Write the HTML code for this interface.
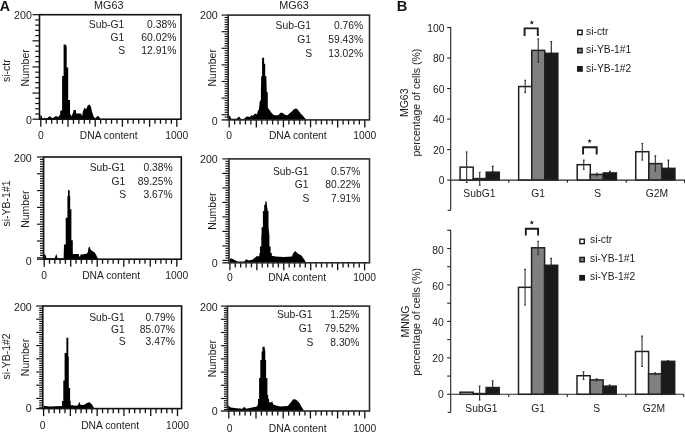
<!DOCTYPE html>
<html><head><meta charset="utf-8"><title>Figure</title>
<style>
html,body{margin:0;padding:0;background:#fff;width:685px;height:434px;overflow:hidden}
svg{display:block;filter:blur(0.3px);font-family:"Liberation Sans",sans-serif}
</style></head><body>
<svg width="685" height="434" viewBox="0 0 685 434">
<rect width="685" height="434" fill="#fff"/>
<text x="-0.3" y="10.5" font-size="14.2" font-weight="bold" fill="#111">A</text>
<text x="396.8" y="10.7" font-size="14.7" font-weight="bold" fill="#111">B</text>
<text x="108.8" y="8.8" font-size="10.8" text-anchor="middle" font-weight="normal" fill="#1c1c1c">MG63</text>
<text x="294" y="8.7" font-size="10.8" text-anchor="middle" font-weight="normal" fill="#1c1c1c">MG63</text>
<text x="0" y="0" transform="translate(9.6 70.6) rotate(-90)" font-size="10.5" text-anchor="middle" font-weight="normal" fill="#1c1c1c">si-ctr</text>
<text x="0" y="0" transform="translate(10.3 203.5) rotate(-90)" font-size="10.5" text-anchor="middle" font-weight="normal" fill="#1c1c1c">si-YB-1#1</text>
<text x="0" y="0" transform="translate(10.3 356.4) rotate(-90)" font-size="10.5" text-anchor="middle" font-weight="normal" fill="#1c1c1c">si-YB-1#2</text>
<path d="M40.3 119.2 L40.3 115.3 L41.5 115.5 L42.3 118.3 L47.2 118.3 L48.5 117 L49.9 116.2 L51 117 L52.6 118.3 L54.5 117 L55.8 116 L57 116.5 L58.5 117 L60.1 114.5 L60.4 110.4 L62.1 110.4 L62.1 75.9 L63.6 75.9 L63.6 44.6 L65.6 44.6 L66.7 46.4 L66.7 67.6 L68.2 67.6 L68.2 99.9 L70 99.9 L70 113.5 L71.5 116.2 L73.1 112.5 L73.6 110 L75.8 110 L76.2 113.6 L80.7 113.6 L82.3 115.8 L82.8 111.5 L84.5 107.7 L86.1 109.3 L87.7 105.5 L89.3 104.5 L90.9 106.5 L91.8 111 L93.6 116.5 L95.3 118.6 L96.5 117 L98 115.8 L99.2 117 L100.3 118.8 L100.3 119.2 Z" fill="#000"/>
<line x1="32.5" y1="119.2" x2="39.5" y2="119.2" stroke="#111" stroke-width="1.2"/>
<line x1="35.2" y1="113.98" x2="39.5" y2="113.98" stroke="#111" stroke-width="1.2"/>
<line x1="35.2" y1="108.75" x2="39.5" y2="108.75" stroke="#111" stroke-width="1.2"/>
<line x1="35.2" y1="103.53" x2="39.5" y2="103.53" stroke="#111" stroke-width="1.2"/>
<line x1="35.2" y1="98.3" x2="39.5" y2="98.3" stroke="#111" stroke-width="1.2"/>
<line x1="32.5" y1="93.08" x2="39.5" y2="93.08" stroke="#111" stroke-width="1.2"/>
<line x1="35.2" y1="87.85" x2="39.5" y2="87.85" stroke="#111" stroke-width="1.2"/>
<line x1="35.2" y1="82.62" x2="39.5" y2="82.62" stroke="#111" stroke-width="1.2"/>
<line x1="35.2" y1="77.4" x2="39.5" y2="77.4" stroke="#111" stroke-width="1.2"/>
<line x1="35.2" y1="72.18" x2="39.5" y2="72.18" stroke="#111" stroke-width="1.2"/>
<line x1="32.5" y1="66.95" x2="39.5" y2="66.95" stroke="#111" stroke-width="1.2"/>
<line x1="35.2" y1="61.73" x2="39.5" y2="61.73" stroke="#111" stroke-width="1.2"/>
<line x1="35.2" y1="56.5" x2="39.5" y2="56.5" stroke="#111" stroke-width="1.2"/>
<line x1="35.2" y1="51.28" x2="39.5" y2="51.28" stroke="#111" stroke-width="1.2"/>
<line x1="35.2" y1="46.05" x2="39.5" y2="46.05" stroke="#111" stroke-width="1.2"/>
<line x1="32.5" y1="40.83" x2="39.5" y2="40.83" stroke="#111" stroke-width="1.2"/>
<line x1="35.2" y1="35.6" x2="39.5" y2="35.6" stroke="#111" stroke-width="1.2"/>
<line x1="35.2" y1="30.38" x2="39.5" y2="30.38" stroke="#111" stroke-width="1.2"/>
<line x1="35.2" y1="25.15" x2="39.5" y2="25.15" stroke="#111" stroke-width="1.2"/>
<line x1="35.2" y1="19.92" x2="39.5" y2="19.92" stroke="#111" stroke-width="1.2"/>
<line x1="32.5" y1="14.7" x2="39.5" y2="14.7" stroke="#111" stroke-width="1.2"/>
<line x1="40.8" y1="119.2" x2="40.8" y2="126.7" stroke="#111" stroke-width="1.3"/>
<line x1="46.24" y1="119.2" x2="46.24" y2="123.8" stroke="#111" stroke-width="1.3"/>
<line x1="51.68" y1="119.2" x2="51.68" y2="123.8" stroke="#111" stroke-width="1.3"/>
<line x1="57.12" y1="119.2" x2="57.12" y2="123.8" stroke="#111" stroke-width="1.3"/>
<line x1="62.56" y1="119.2" x2="62.56" y2="123.8" stroke="#111" stroke-width="1.3"/>
<line x1="68" y1="119.2" x2="68" y2="126.7" stroke="#111" stroke-width="1.3"/>
<line x1="73.44" y1="119.2" x2="73.44" y2="123.8" stroke="#111" stroke-width="1.3"/>
<line x1="78.88" y1="119.2" x2="78.88" y2="123.8" stroke="#111" stroke-width="1.3"/>
<line x1="84.32" y1="119.2" x2="84.32" y2="123.8" stroke="#111" stroke-width="1.3"/>
<line x1="89.76" y1="119.2" x2="89.76" y2="123.8" stroke="#111" stroke-width="1.3"/>
<line x1="95.2" y1="119.2" x2="95.2" y2="126.7" stroke="#111" stroke-width="1.3"/>
<line x1="100.64" y1="119.2" x2="100.64" y2="123.8" stroke="#111" stroke-width="1.3"/>
<line x1="106.08" y1="119.2" x2="106.08" y2="123.8" stroke="#111" stroke-width="1.3"/>
<line x1="111.52" y1="119.2" x2="111.52" y2="123.8" stroke="#111" stroke-width="1.3"/>
<line x1="116.96" y1="119.2" x2="116.96" y2="123.8" stroke="#111" stroke-width="1.3"/>
<line x1="122.4" y1="119.2" x2="122.4" y2="126.7" stroke="#111" stroke-width="1.3"/>
<line x1="127.84" y1="119.2" x2="127.84" y2="123.8" stroke="#111" stroke-width="1.3"/>
<line x1="133.28" y1="119.2" x2="133.28" y2="123.8" stroke="#111" stroke-width="1.3"/>
<line x1="138.72" y1="119.2" x2="138.72" y2="123.8" stroke="#111" stroke-width="1.3"/>
<line x1="144.16" y1="119.2" x2="144.16" y2="123.8" stroke="#111" stroke-width="1.3"/>
<line x1="149.6" y1="119.2" x2="149.6" y2="126.7" stroke="#111" stroke-width="1.3"/>
<line x1="155.04" y1="119.2" x2="155.04" y2="123.8" stroke="#111" stroke-width="1.3"/>
<line x1="160.48" y1="119.2" x2="160.48" y2="123.8" stroke="#111" stroke-width="1.3"/>
<line x1="165.92" y1="119.2" x2="165.92" y2="123.8" stroke="#111" stroke-width="1.3"/>
<line x1="171.36" y1="119.2" x2="171.36" y2="123.8" stroke="#111" stroke-width="1.3"/>
<line x1="176.8" y1="119.2" x2="176.8" y2="126.7" stroke="#111" stroke-width="1.3"/>
<rect x="39.5" y="14.7" width="141.5" height="104.5" fill="none" stroke="#111" stroke-width="1.6"/>
<text x="31.8" y="19.15" font-size="10.6" text-anchor="end" font-weight="normal" fill="#1c1c1c">200</text>
<text x="31.8" y="123.55" font-size="10.6" text-anchor="end" font-weight="normal" fill="#1c1c1c">0</text>
<text x="40.8" y="138.5" font-size="10.3" text-anchor="middle" font-weight="normal" fill="#1c1c1c">0</text>
<text x="176.8" y="138.5" font-size="10.3" text-anchor="middle" font-weight="normal" fill="#1c1c1c">1000</text>
<text x="108.7" y="138.5" font-size="10.3" text-anchor="middle" font-weight="normal" fill="#1c1c1c">DNA content</text>
<text x="0" y="0" transform="translate(29.4 67.9) rotate(-90)" font-size="10.5" text-anchor="middle" font-weight="normal" fill="#1c1c1c">Number</text>
<text x="124.3" y="28.2" font-size="10.3" text-anchor="end" font-weight="normal" fill="#1c1c1c">Sub-G1</text>
<text x="176.3" y="28.2" font-size="10.3" text-anchor="end" font-weight="normal" fill="#1c1c1c">0.38%</text>
<text x="124.3" y="40.9" font-size="10.3" text-anchor="end" font-weight="normal" fill="#1c1c1c">G1</text>
<text x="176.3" y="40.9" font-size="10.3" text-anchor="end" font-weight="normal" fill="#1c1c1c">60.02%</text>
<text x="125.2" y="53.8" font-size="10.3" text-anchor="end" font-weight="normal" fill="#1c1c1c">S</text>
<text x="176.3" y="53.8" font-size="10.3" text-anchor="end" font-weight="normal" fill="#1c1c1c">12.91%</text>
<path d="M228.4 119.9 L228.4 116.5 L229.2 115.6 L230.2 116.2 L231.2 118.8 L236.5 118.8 L238 117.5 L239.1 116.5 L240 117.8 L241.5 119.3 L244.6 118.6 L246.1 116.8 L248.2 116.5 L249.7 117.3 L251.2 115.3 L252.8 115.8 L254.3 114.2 L255.8 113.5 L256.9 114.6 L257.9 110.7 L258.9 109.6 L259.9 100.4 L260.9 100.4 L260.9 92.7 L261.2 76.3 L262.1 76.3 L262.1 57.8 L264.1 57.8 L264.1 63.8 L265.2 63.8 L265.2 76.3 L266.3 76.3 L266.8 92.3 L267.8 92.3 L267.8 107.6 L269.1 109.6 L270.7 111.7 L272.7 114.2 L274.7 115.3 L278.3 115.3 L280.4 112.7 L282.4 112.7 L285 114.7 L287.5 115.3 L289.6 113.2 L291.6 111.7 L293.6 109.6 L295.7 108.6 L297.2 109.1 L299.3 111.7 L301.3 114.2 L303.4 116.3 L305.4 118.8 L306.9 120 L306.9 119.9 Z" fill="#000"/>
<line x1="221.6" y1="15.1" x2="228.2" y2="15.1" stroke="#111" stroke-width="1.15"/>
<line x1="224.6" y1="17.47" x2="228.2" y2="17.47" stroke="#111" stroke-width="1.15"/>
<line x1="224.6" y1="19.84" x2="228.2" y2="19.84" stroke="#111" stroke-width="1.15"/>
<line x1="224.6" y1="22.21" x2="228.2" y2="22.21" stroke="#111" stroke-width="1.15"/>
<line x1="224.6" y1="24.59" x2="228.2" y2="24.59" stroke="#111" stroke-width="1.15"/>
<line x1="224.6" y1="26.96" x2="228.2" y2="26.96" stroke="#111" stroke-width="1.15"/>
<line x1="224.6" y1="29.33" x2="228.2" y2="29.33" stroke="#111" stroke-width="1.15"/>
<line x1="221.6" y1="31.7" x2="228.2" y2="31.7" stroke="#111" stroke-width="1.15"/>
<line x1="224.6" y1="34.07" x2="228.2" y2="34.07" stroke="#111" stroke-width="1.15"/>
<line x1="224.6" y1="36.44" x2="228.2" y2="36.44" stroke="#111" stroke-width="1.15"/>
<line x1="224.6" y1="38.81" x2="228.2" y2="38.81" stroke="#111" stroke-width="1.15"/>
<line x1="224.6" y1="41.19" x2="228.2" y2="41.19" stroke="#111" stroke-width="1.15"/>
<line x1="224.6" y1="43.56" x2="228.2" y2="43.56" stroke="#111" stroke-width="1.15"/>
<line x1="224.6" y1="45.93" x2="228.2" y2="45.93" stroke="#111" stroke-width="1.15"/>
<line x1="221.6" y1="48.3" x2="228.2" y2="48.3" stroke="#111" stroke-width="1.15"/>
<line x1="224.6" y1="50.67" x2="228.2" y2="50.67" stroke="#111" stroke-width="1.15"/>
<line x1="224.6" y1="53.04" x2="228.2" y2="53.04" stroke="#111" stroke-width="1.15"/>
<line x1="224.6" y1="55.41" x2="228.2" y2="55.41" stroke="#111" stroke-width="1.15"/>
<line x1="224.6" y1="57.79" x2="228.2" y2="57.79" stroke="#111" stroke-width="1.15"/>
<line x1="224.6" y1="60.16" x2="228.2" y2="60.16" stroke="#111" stroke-width="1.15"/>
<line x1="224.6" y1="62.53" x2="228.2" y2="62.53" stroke="#111" stroke-width="1.15"/>
<line x1="221.6" y1="64.9" x2="228.2" y2="64.9" stroke="#111" stroke-width="1.15"/>
<line x1="224.6" y1="67.27" x2="228.2" y2="67.27" stroke="#111" stroke-width="1.15"/>
<line x1="224.6" y1="69.64" x2="228.2" y2="69.64" stroke="#111" stroke-width="1.15"/>
<line x1="224.6" y1="72.01" x2="228.2" y2="72.01" stroke="#111" stroke-width="1.15"/>
<line x1="224.6" y1="74.39" x2="228.2" y2="74.39" stroke="#111" stroke-width="1.15"/>
<line x1="224.6" y1="76.76" x2="228.2" y2="76.76" stroke="#111" stroke-width="1.15"/>
<line x1="224.6" y1="79.13" x2="228.2" y2="79.13" stroke="#111" stroke-width="1.15"/>
<line x1="221.6" y1="81.5" x2="228.2" y2="81.5" stroke="#111" stroke-width="1.15"/>
<line x1="224.6" y1="83.87" x2="228.2" y2="83.87" stroke="#111" stroke-width="1.15"/>
<line x1="224.6" y1="86.24" x2="228.2" y2="86.24" stroke="#111" stroke-width="1.15"/>
<line x1="224.6" y1="88.61" x2="228.2" y2="88.61" stroke="#111" stroke-width="1.15"/>
<line x1="224.6" y1="90.99" x2="228.2" y2="90.99" stroke="#111" stroke-width="1.15"/>
<line x1="224.6" y1="93.36" x2="228.2" y2="93.36" stroke="#111" stroke-width="1.15"/>
<line x1="224.6" y1="95.73" x2="228.2" y2="95.73" stroke="#111" stroke-width="1.15"/>
<line x1="221.6" y1="98.1" x2="228.2" y2="98.1" stroke="#111" stroke-width="1.15"/>
<line x1="224.6" y1="100.47" x2="228.2" y2="100.47" stroke="#111" stroke-width="1.15"/>
<line x1="224.6" y1="102.84" x2="228.2" y2="102.84" stroke="#111" stroke-width="1.15"/>
<line x1="224.6" y1="105.21" x2="228.2" y2="105.21" stroke="#111" stroke-width="1.15"/>
<line x1="224.6" y1="107.59" x2="228.2" y2="107.59" stroke="#111" stroke-width="1.15"/>
<line x1="224.6" y1="109.96" x2="228.2" y2="109.96" stroke="#111" stroke-width="1.15"/>
<line x1="224.6" y1="112.33" x2="228.2" y2="112.33" stroke="#111" stroke-width="1.15"/>
<line x1="221.6" y1="114.7" x2="228.2" y2="114.7" stroke="#111" stroke-width="1.15"/>
<line x1="224.6" y1="117.07" x2="228.2" y2="117.07" stroke="#111" stroke-width="1.15"/>
<line x1="221.6" y1="119.9" x2="228.2" y2="119.9" stroke="#111" stroke-width="1.3"/>
<line x1="229.2" y1="119.9" x2="229.2" y2="127.4" stroke="#111" stroke-width="1.3"/>
<line x1="234.62" y1="119.9" x2="234.62" y2="124.5" stroke="#111" stroke-width="1.3"/>
<line x1="240.05" y1="119.9" x2="240.05" y2="124.5" stroke="#111" stroke-width="1.3"/>
<line x1="245.47" y1="119.9" x2="245.47" y2="124.5" stroke="#111" stroke-width="1.3"/>
<line x1="250.9" y1="119.9" x2="250.9" y2="124.5" stroke="#111" stroke-width="1.3"/>
<line x1="256.32" y1="119.9" x2="256.32" y2="127.4" stroke="#111" stroke-width="1.3"/>
<line x1="261.74" y1="119.9" x2="261.74" y2="124.5" stroke="#111" stroke-width="1.3"/>
<line x1="267.17" y1="119.9" x2="267.17" y2="124.5" stroke="#111" stroke-width="1.3"/>
<line x1="272.59" y1="119.9" x2="272.59" y2="124.5" stroke="#111" stroke-width="1.3"/>
<line x1="278.02" y1="119.9" x2="278.02" y2="124.5" stroke="#111" stroke-width="1.3"/>
<line x1="283.44" y1="119.9" x2="283.44" y2="127.4" stroke="#111" stroke-width="1.3"/>
<line x1="288.86" y1="119.9" x2="288.86" y2="124.5" stroke="#111" stroke-width="1.3"/>
<line x1="294.29" y1="119.9" x2="294.29" y2="124.5" stroke="#111" stroke-width="1.3"/>
<line x1="299.71" y1="119.9" x2="299.71" y2="124.5" stroke="#111" stroke-width="1.3"/>
<line x1="305.14" y1="119.9" x2="305.14" y2="124.5" stroke="#111" stroke-width="1.3"/>
<line x1="310.56" y1="119.9" x2="310.56" y2="127.4" stroke="#111" stroke-width="1.3"/>
<line x1="315.98" y1="119.9" x2="315.98" y2="124.5" stroke="#111" stroke-width="1.3"/>
<line x1="321.41" y1="119.9" x2="321.41" y2="124.5" stroke="#111" stroke-width="1.3"/>
<line x1="326.83" y1="119.9" x2="326.83" y2="124.5" stroke="#111" stroke-width="1.3"/>
<line x1="332.26" y1="119.9" x2="332.26" y2="124.5" stroke="#111" stroke-width="1.3"/>
<line x1="337.68" y1="119.9" x2="337.68" y2="127.4" stroke="#111" stroke-width="1.3"/>
<line x1="343.1" y1="119.9" x2="343.1" y2="124.5" stroke="#111" stroke-width="1.3"/>
<line x1="348.53" y1="119.9" x2="348.53" y2="124.5" stroke="#111" stroke-width="1.3"/>
<line x1="353.95" y1="119.9" x2="353.95" y2="124.5" stroke="#111" stroke-width="1.3"/>
<line x1="359.38" y1="119.9" x2="359.38" y2="124.5" stroke="#111" stroke-width="1.3"/>
<line x1="364.8" y1="119.9" x2="364.8" y2="127.4" stroke="#111" stroke-width="1.3"/>
<rect x="228.2" y="15.1" width="141.3" height="104.8" fill="none" stroke="#2a2a2a" stroke-width="1.6"/>
<text x="217.7" y="19.45" font-size="10.6" text-anchor="end" font-weight="normal" fill="#1c1c1c">200</text>
<text x="217.7" y="124.75" font-size="10.6" text-anchor="end" font-weight="normal" fill="#1c1c1c">0</text>
<text x="229.2" y="138.6" font-size="10.3" text-anchor="middle" font-weight="normal" fill="#1c1c1c">0</text>
<text x="364.8" y="138.6" font-size="10.3" text-anchor="middle" font-weight="normal" fill="#1c1c1c">1000</text>
<text x="297.8" y="138.6" font-size="10.3" text-anchor="middle" font-weight="normal" fill="#1c1c1c">DNA content</text>
<text x="0" y="0" transform="translate(215.9 67.8) rotate(-90)" font-size="10.5" text-anchor="middle" font-weight="normal" fill="#1c1c1c">Number</text>
<text x="311.1" y="28.9" font-size="10.3" text-anchor="end" font-weight="normal" fill="#1c1c1c">Sub-G1</text>
<text x="363.2" y="28.9" font-size="10.3" text-anchor="end" font-weight="normal" fill="#1c1c1c">0.76%</text>
<text x="311.1" y="42.8" font-size="10.3" text-anchor="end" font-weight="normal" fill="#1c1c1c">G1</text>
<text x="363.2" y="42.8" font-size="10.3" text-anchor="end" font-weight="normal" fill="#1c1c1c">59.43%</text>
<text x="312" y="56.6" font-size="10.3" text-anchor="end" font-weight="normal" fill="#1c1c1c">S</text>
<text x="363.2" y="56.6" font-size="10.3" text-anchor="end" font-weight="normal" fill="#1c1c1c">13.02%</text>
<path d="M43.8 259.2 L43.8 254.1 L45.5 255 L46.5 258.2 L54.7 258.2 L55.5 256 L56.2 254.1 L57 256 L57.5 258.2 L63.6 258.2 L64 244.6 L65.7 244.6 L65.7 217.8 L67.4 217.8 L67.4 196.2 L68 196.2 L68 190.2 L69.7 190.2 L69.7 196.2 L70.2 196.2 L70.2 209.2 L71.4 209.2 L71.4 240.3 L72.8 240.3 L72.8 254.1 L78.7 254.1 L79.2 256.5 L80.2 256.5 L80.6 254.3 L82.4 254.5 L87 253.5 L87.8 252.3 L88.5 247.5 L89.8 246.8 L90.5 249.5 L91.6 250.4 L93.2 251.5 L94.4 252.3 L96.2 255 L97.5 257.8 L98.3 259 L98.3 259.2 Z" fill="#000"/>
<line x1="37" y1="157" x2="43.6" y2="157" stroke="#111" stroke-width="1.15"/>
<line x1="40" y1="159.4" x2="43.6" y2="159.4" stroke="#111" stroke-width="1.15"/>
<line x1="40" y1="161.8" x2="43.6" y2="161.8" stroke="#111" stroke-width="1.15"/>
<line x1="40" y1="164.2" x2="43.6" y2="164.2" stroke="#111" stroke-width="1.15"/>
<line x1="40" y1="166.6" x2="43.6" y2="166.6" stroke="#111" stroke-width="1.15"/>
<line x1="40" y1="169" x2="43.6" y2="169" stroke="#111" stroke-width="1.15"/>
<line x1="40" y1="171.4" x2="43.6" y2="171.4" stroke="#111" stroke-width="1.15"/>
<line x1="37" y1="173.8" x2="43.6" y2="173.8" stroke="#111" stroke-width="1.15"/>
<line x1="40" y1="176.2" x2="43.6" y2="176.2" stroke="#111" stroke-width="1.15"/>
<line x1="40" y1="178.6" x2="43.6" y2="178.6" stroke="#111" stroke-width="1.15"/>
<line x1="40" y1="181" x2="43.6" y2="181" stroke="#111" stroke-width="1.15"/>
<line x1="40" y1="183.4" x2="43.6" y2="183.4" stroke="#111" stroke-width="1.15"/>
<line x1="40" y1="185.8" x2="43.6" y2="185.8" stroke="#111" stroke-width="1.15"/>
<line x1="40" y1="188.2" x2="43.6" y2="188.2" stroke="#111" stroke-width="1.15"/>
<line x1="37" y1="190.6" x2="43.6" y2="190.6" stroke="#111" stroke-width="1.15"/>
<line x1="40" y1="193" x2="43.6" y2="193" stroke="#111" stroke-width="1.15"/>
<line x1="40" y1="195.4" x2="43.6" y2="195.4" stroke="#111" stroke-width="1.15"/>
<line x1="40" y1="197.8" x2="43.6" y2="197.8" stroke="#111" stroke-width="1.15"/>
<line x1="40" y1="200.2" x2="43.6" y2="200.2" stroke="#111" stroke-width="1.15"/>
<line x1="40" y1="202.6" x2="43.6" y2="202.6" stroke="#111" stroke-width="1.15"/>
<line x1="40" y1="205" x2="43.6" y2="205" stroke="#111" stroke-width="1.15"/>
<line x1="37" y1="207.4" x2="43.6" y2="207.4" stroke="#111" stroke-width="1.15"/>
<line x1="40" y1="209.8" x2="43.6" y2="209.8" stroke="#111" stroke-width="1.15"/>
<line x1="40" y1="212.2" x2="43.6" y2="212.2" stroke="#111" stroke-width="1.15"/>
<line x1="40" y1="214.6" x2="43.6" y2="214.6" stroke="#111" stroke-width="1.15"/>
<line x1="40" y1="217" x2="43.6" y2="217" stroke="#111" stroke-width="1.15"/>
<line x1="40" y1="219.4" x2="43.6" y2="219.4" stroke="#111" stroke-width="1.15"/>
<line x1="40" y1="221.8" x2="43.6" y2="221.8" stroke="#111" stroke-width="1.15"/>
<line x1="37" y1="224.2" x2="43.6" y2="224.2" stroke="#111" stroke-width="1.15"/>
<line x1="40" y1="226.6" x2="43.6" y2="226.6" stroke="#111" stroke-width="1.15"/>
<line x1="40" y1="229" x2="43.6" y2="229" stroke="#111" stroke-width="1.15"/>
<line x1="40" y1="231.4" x2="43.6" y2="231.4" stroke="#111" stroke-width="1.15"/>
<line x1="40" y1="233.8" x2="43.6" y2="233.8" stroke="#111" stroke-width="1.15"/>
<line x1="40" y1="236.2" x2="43.6" y2="236.2" stroke="#111" stroke-width="1.15"/>
<line x1="40" y1="238.6" x2="43.6" y2="238.6" stroke="#111" stroke-width="1.15"/>
<line x1="37" y1="241" x2="43.6" y2="241" stroke="#111" stroke-width="1.15"/>
<line x1="40" y1="243.4" x2="43.6" y2="243.4" stroke="#111" stroke-width="1.15"/>
<line x1="40" y1="245.8" x2="43.6" y2="245.8" stroke="#111" stroke-width="1.15"/>
<line x1="40" y1="248.2" x2="43.6" y2="248.2" stroke="#111" stroke-width="1.15"/>
<line x1="40" y1="250.6" x2="43.6" y2="250.6" stroke="#111" stroke-width="1.15"/>
<line x1="40" y1="253" x2="43.6" y2="253" stroke="#111" stroke-width="1.15"/>
<line x1="40" y1="255.4" x2="43.6" y2="255.4" stroke="#111" stroke-width="1.15"/>
<line x1="37" y1="257.8" x2="43.6" y2="257.8" stroke="#111" stroke-width="1.15"/>
<line x1="37" y1="259.2" x2="43.6" y2="259.2" stroke="#111" stroke-width="1.3"/>
<line x1="44.2" y1="259.2" x2="44.2" y2="266.7" stroke="#111" stroke-width="1.3"/>
<line x1="49.5" y1="259.2" x2="49.5" y2="263.8" stroke="#111" stroke-width="1.3"/>
<line x1="54.81" y1="259.2" x2="54.81" y2="263.8" stroke="#111" stroke-width="1.3"/>
<line x1="60.11" y1="259.2" x2="60.11" y2="263.8" stroke="#111" stroke-width="1.3"/>
<line x1="65.42" y1="259.2" x2="65.42" y2="263.8" stroke="#111" stroke-width="1.3"/>
<line x1="70.72" y1="259.2" x2="70.72" y2="266.7" stroke="#111" stroke-width="1.3"/>
<line x1="76.02" y1="259.2" x2="76.02" y2="263.8" stroke="#111" stroke-width="1.3"/>
<line x1="81.33" y1="259.2" x2="81.33" y2="263.8" stroke="#111" stroke-width="1.3"/>
<line x1="86.63" y1="259.2" x2="86.63" y2="263.8" stroke="#111" stroke-width="1.3"/>
<line x1="91.94" y1="259.2" x2="91.94" y2="263.8" stroke="#111" stroke-width="1.3"/>
<line x1="97.24" y1="259.2" x2="97.24" y2="266.7" stroke="#111" stroke-width="1.3"/>
<line x1="102.54" y1="259.2" x2="102.54" y2="263.8" stroke="#111" stroke-width="1.3"/>
<line x1="107.85" y1="259.2" x2="107.85" y2="263.8" stroke="#111" stroke-width="1.3"/>
<line x1="113.15" y1="259.2" x2="113.15" y2="263.8" stroke="#111" stroke-width="1.3"/>
<line x1="118.46" y1="259.2" x2="118.46" y2="263.8" stroke="#111" stroke-width="1.3"/>
<line x1="123.76" y1="259.2" x2="123.76" y2="266.7" stroke="#111" stroke-width="1.3"/>
<line x1="129.06" y1="259.2" x2="129.06" y2="263.8" stroke="#111" stroke-width="1.3"/>
<line x1="134.37" y1="259.2" x2="134.37" y2="263.8" stroke="#111" stroke-width="1.3"/>
<line x1="139.67" y1="259.2" x2="139.67" y2="263.8" stroke="#111" stroke-width="1.3"/>
<line x1="144.98" y1="259.2" x2="144.98" y2="263.8" stroke="#111" stroke-width="1.3"/>
<line x1="150.28" y1="259.2" x2="150.28" y2="266.7" stroke="#111" stroke-width="1.3"/>
<line x1="155.58" y1="259.2" x2="155.58" y2="263.8" stroke="#111" stroke-width="1.3"/>
<line x1="160.89" y1="259.2" x2="160.89" y2="263.8" stroke="#111" stroke-width="1.3"/>
<line x1="166.19" y1="259.2" x2="166.19" y2="263.8" stroke="#111" stroke-width="1.3"/>
<line x1="171.5" y1="259.2" x2="171.5" y2="263.8" stroke="#111" stroke-width="1.3"/>
<line x1="176.8" y1="259.2" x2="176.8" y2="266.7" stroke="#111" stroke-width="1.3"/>
<rect x="43.6" y="157" width="137.7" height="102.2" fill="none" stroke="#111" stroke-width="1.6"/>
<text x="31.7" y="161.85" font-size="10.6" text-anchor="end" font-weight="normal" fill="#1c1c1c">200</text>
<text x="31.7" y="265.35" font-size="10.6" text-anchor="end" font-weight="normal" fill="#1c1c1c">0</text>
<text x="44.2" y="278.9" font-size="10.3" text-anchor="middle" font-weight="normal" fill="#1c1c1c">0</text>
<text x="176.8" y="278.9" font-size="10.3" text-anchor="middle" font-weight="normal" fill="#1c1c1c">1000</text>
<text x="111.1" y="278.9" font-size="10.3" text-anchor="middle" font-weight="normal" fill="#1c1c1c">DNA content</text>
<text x="0" y="0" transform="translate(29.1 209.2) rotate(-90)" font-size="10.5" text-anchor="middle" font-weight="normal" fill="#1c1c1c">Number</text>
<text x="125.2" y="171.3" font-size="10.3" text-anchor="end" font-weight="normal" fill="#1c1c1c">Sub-G1</text>
<text x="172.7" y="171.3" font-size="10.3" text-anchor="end" font-weight="normal" fill="#1c1c1c">0.38%</text>
<text x="125.2" y="184.9" font-size="10.3" text-anchor="end" font-weight="normal" fill="#1c1c1c">G1</text>
<text x="172.7" y="184.9" font-size="10.3" text-anchor="end" font-weight="normal" fill="#1c1c1c">89.25%</text>
<text x="126.1" y="197.6" font-size="10.3" text-anchor="end" font-weight="normal" fill="#1c1c1c">S</text>
<text x="172.7" y="197.6" font-size="10.3" text-anchor="end" font-weight="normal" fill="#1c1c1c">3.67%</text>
<path d="M229.6 262.8 L229.6 258.6 L231.7 258.6 L234.6 260 L237.5 261.5 L244.2 261.5 L246.1 259.2 L248.9 260.5 L252.8 259.6 L256.5 256.3 L259.4 256.3 L259.4 253 L260 253 L260 246.6 L261.3 246.6 L261.3 235.3 L261.6 235.3 L261.6 227.3 L262.9 227.3 L262.9 211.1 L264.2 211.1 L264.2 204.7 L265.3 204.7 L265.3 201.5 L266.6 201.5 L266.9 204.7 L267.7 211.1 L268.5 211.1 L268.5 227.3 L269.4 235.3 L269.4 246.6 L270.6 246.6 L270.6 253 L271.8 253 L271.8 255.7 L275.7 256.5 L283.4 257 L292 256.5 L293.3 252.9 L295.2 251 L297.7 253.5 L301.5 255.5 L304.4 259.8 L305.9 262.5 L305.9 262.8 Z" fill="#000"/>
<line x1="222.4" y1="158.9" x2="229" y2="158.9" stroke="#111" stroke-width="1.15"/>
<line x1="225.4" y1="161.32" x2="229" y2="161.32" stroke="#111" stroke-width="1.15"/>
<line x1="225.4" y1="163.73" x2="229" y2="163.73" stroke="#111" stroke-width="1.15"/>
<line x1="225.4" y1="166.15" x2="229" y2="166.15" stroke="#111" stroke-width="1.15"/>
<line x1="225.4" y1="168.57" x2="229" y2="168.57" stroke="#111" stroke-width="1.15"/>
<line x1="225.4" y1="170.98" x2="229" y2="170.98" stroke="#111" stroke-width="1.15"/>
<line x1="222.4" y1="173.4" x2="229" y2="173.4" stroke="#111" stroke-width="1.15"/>
<line x1="225.4" y1="175.82" x2="229" y2="175.82" stroke="#111" stroke-width="1.15"/>
<line x1="225.4" y1="178.23" x2="229" y2="178.23" stroke="#111" stroke-width="1.15"/>
<line x1="225.4" y1="180.65" x2="229" y2="180.65" stroke="#111" stroke-width="1.15"/>
<line x1="225.4" y1="183.07" x2="229" y2="183.07" stroke="#111" stroke-width="1.15"/>
<line x1="225.4" y1="185.48" x2="229" y2="185.48" stroke="#111" stroke-width="1.15"/>
<line x1="222.4" y1="187.9" x2="229" y2="187.9" stroke="#111" stroke-width="1.15"/>
<line x1="225.4" y1="190.32" x2="229" y2="190.32" stroke="#111" stroke-width="1.15"/>
<line x1="225.4" y1="192.73" x2="229" y2="192.73" stroke="#111" stroke-width="1.15"/>
<line x1="225.4" y1="195.15" x2="229" y2="195.15" stroke="#111" stroke-width="1.15"/>
<line x1="225.4" y1="197.57" x2="229" y2="197.57" stroke="#111" stroke-width="1.15"/>
<line x1="225.4" y1="199.98" x2="229" y2="199.98" stroke="#111" stroke-width="1.15"/>
<line x1="222.4" y1="202.4" x2="229" y2="202.4" stroke="#111" stroke-width="1.15"/>
<line x1="225.4" y1="204.82" x2="229" y2="204.82" stroke="#111" stroke-width="1.15"/>
<line x1="225.4" y1="207.23" x2="229" y2="207.23" stroke="#111" stroke-width="1.15"/>
<line x1="225.4" y1="209.65" x2="229" y2="209.65" stroke="#111" stroke-width="1.15"/>
<line x1="225.4" y1="212.07" x2="229" y2="212.07" stroke="#111" stroke-width="1.15"/>
<line x1="225.4" y1="214.48" x2="229" y2="214.48" stroke="#111" stroke-width="1.15"/>
<line x1="222.4" y1="216.9" x2="229" y2="216.9" stroke="#111" stroke-width="1.15"/>
<line x1="225.4" y1="219.32" x2="229" y2="219.32" stroke="#111" stroke-width="1.15"/>
<line x1="225.4" y1="221.73" x2="229" y2="221.73" stroke="#111" stroke-width="1.15"/>
<line x1="225.4" y1="224.15" x2="229" y2="224.15" stroke="#111" stroke-width="1.15"/>
<line x1="225.4" y1="226.57" x2="229" y2="226.57" stroke="#111" stroke-width="1.15"/>
<line x1="225.4" y1="228.98" x2="229" y2="228.98" stroke="#111" stroke-width="1.15"/>
<line x1="222.4" y1="231.4" x2="229" y2="231.4" stroke="#111" stroke-width="1.15"/>
<line x1="225.4" y1="233.82" x2="229" y2="233.82" stroke="#111" stroke-width="1.15"/>
<line x1="225.4" y1="236.23" x2="229" y2="236.23" stroke="#111" stroke-width="1.15"/>
<line x1="225.4" y1="238.65" x2="229" y2="238.65" stroke="#111" stroke-width="1.15"/>
<line x1="225.4" y1="241.07" x2="229" y2="241.07" stroke="#111" stroke-width="1.15"/>
<line x1="225.4" y1="243.48" x2="229" y2="243.48" stroke="#111" stroke-width="1.15"/>
<line x1="222.4" y1="245.9" x2="229" y2="245.9" stroke="#111" stroke-width="1.15"/>
<line x1="225.4" y1="248.32" x2="229" y2="248.32" stroke="#111" stroke-width="1.15"/>
<line x1="225.4" y1="250.73" x2="229" y2="250.73" stroke="#111" stroke-width="1.15"/>
<line x1="225.4" y1="253.15" x2="229" y2="253.15" stroke="#111" stroke-width="1.15"/>
<line x1="225.4" y1="255.57" x2="229" y2="255.57" stroke="#111" stroke-width="1.15"/>
<line x1="225.4" y1="257.98" x2="229" y2="257.98" stroke="#111" stroke-width="1.15"/>
<line x1="222.4" y1="260.4" x2="229" y2="260.4" stroke="#111" stroke-width="1.15"/>
<line x1="222.4" y1="262.8" x2="229" y2="262.8" stroke="#111" stroke-width="1.3"/>
<line x1="229.9" y1="262.8" x2="229.9" y2="270.3" stroke="#111" stroke-width="1.3"/>
<line x1="235.29" y1="262.8" x2="235.29" y2="267.4" stroke="#111" stroke-width="1.3"/>
<line x1="240.68" y1="262.8" x2="240.68" y2="267.4" stroke="#111" stroke-width="1.3"/>
<line x1="246.06" y1="262.8" x2="246.06" y2="267.4" stroke="#111" stroke-width="1.3"/>
<line x1="251.45" y1="262.8" x2="251.45" y2="267.4" stroke="#111" stroke-width="1.3"/>
<line x1="256.84" y1="262.8" x2="256.84" y2="270.3" stroke="#111" stroke-width="1.3"/>
<line x1="262.23" y1="262.8" x2="262.23" y2="267.4" stroke="#111" stroke-width="1.3"/>
<line x1="267.62" y1="262.8" x2="267.62" y2="267.4" stroke="#111" stroke-width="1.3"/>
<line x1="273" y1="262.8" x2="273" y2="267.4" stroke="#111" stroke-width="1.3"/>
<line x1="278.39" y1="262.8" x2="278.39" y2="267.4" stroke="#111" stroke-width="1.3"/>
<line x1="283.78" y1="262.8" x2="283.78" y2="270.3" stroke="#111" stroke-width="1.3"/>
<line x1="289.17" y1="262.8" x2="289.17" y2="267.4" stroke="#111" stroke-width="1.3"/>
<line x1="294.56" y1="262.8" x2="294.56" y2="267.4" stroke="#111" stroke-width="1.3"/>
<line x1="299.94" y1="262.8" x2="299.94" y2="267.4" stroke="#111" stroke-width="1.3"/>
<line x1="305.33" y1="262.8" x2="305.33" y2="267.4" stroke="#111" stroke-width="1.3"/>
<line x1="310.72" y1="262.8" x2="310.72" y2="270.3" stroke="#111" stroke-width="1.3"/>
<line x1="316.11" y1="262.8" x2="316.11" y2="267.4" stroke="#111" stroke-width="1.3"/>
<line x1="321.5" y1="262.8" x2="321.5" y2="267.4" stroke="#111" stroke-width="1.3"/>
<line x1="326.88" y1="262.8" x2="326.88" y2="267.4" stroke="#111" stroke-width="1.3"/>
<line x1="332.27" y1="262.8" x2="332.27" y2="267.4" stroke="#111" stroke-width="1.3"/>
<line x1="337.66" y1="262.8" x2="337.66" y2="270.3" stroke="#111" stroke-width="1.3"/>
<line x1="343.05" y1="262.8" x2="343.05" y2="267.4" stroke="#111" stroke-width="1.3"/>
<line x1="348.44" y1="262.8" x2="348.44" y2="267.4" stroke="#111" stroke-width="1.3"/>
<line x1="353.82" y1="262.8" x2="353.82" y2="267.4" stroke="#111" stroke-width="1.3"/>
<line x1="359.21" y1="262.8" x2="359.21" y2="267.4" stroke="#111" stroke-width="1.3"/>
<line x1="364.6" y1="262.8" x2="364.6" y2="270.3" stroke="#111" stroke-width="1.3"/>
<rect x="229" y="158.9" width="140.5" height="103.9" fill="none" stroke="#2a2a2a" stroke-width="1.6"/>
<text x="217.7" y="163.45" font-size="10.6" text-anchor="end" font-weight="normal" fill="#1c1c1c">200</text>
<text x="217.7" y="267.35" font-size="10.6" text-anchor="end" font-weight="normal" fill="#1c1c1c">0</text>
<text x="229.9" y="280.9" font-size="10.3" text-anchor="middle" font-weight="normal" fill="#1c1c1c">0</text>
<text x="364.6" y="280.9" font-size="10.3" text-anchor="middle" font-weight="normal" fill="#1c1c1c">1000</text>
<text x="297.1" y="280.9" font-size="10.3" text-anchor="middle" font-weight="normal" fill="#1c1c1c">DNA content</text>
<text x="0" y="0" transform="translate(215.9 211.2) rotate(-90)" font-size="10.5" text-anchor="middle" font-weight="normal" fill="#1c1c1c">Number</text>
<text x="308.4" y="174.7" font-size="10.3" text-anchor="end" font-weight="normal" fill="#1c1c1c">Sub-G1</text>
<text x="360.3" y="174.7" font-size="10.3" text-anchor="end" font-weight="normal" fill="#1c1c1c">0.57%</text>
<text x="308.4" y="188.4" font-size="10.3" text-anchor="end" font-weight="normal" fill="#1c1c1c">G1</text>
<text x="360.3" y="188.4" font-size="10.3" text-anchor="end" font-weight="normal" fill="#1c1c1c">80.22%</text>
<text x="309.3" y="202.4" font-size="10.3" text-anchor="end" font-weight="normal" fill="#1c1c1c">S</text>
<text x="360.3" y="202.4" font-size="10.3" text-anchor="end" font-weight="normal" fill="#1c1c1c">7.91%</text>
<path d="M43.6 408.6 L43.6 405.8 L49.5 406.5 L62 406 L62 400.9 L63.3 400.9 L63.3 380.6 L64.6 380.6 L64.6 353 L66.4 353 L66.4 337.7 L68.3 337.7 L68.3 356.7 L68.8 356.7 L68.8 388 L70.1 388 L70.1 400.9 L70.7 400.9 L70.7 405.5 L72.5 405 L74 405.8 L77.8 405.5 L79.3 401.8 L80.6 405 L84.4 404.8 L87.3 402.8 L89.5 402.2 L92 404.5 L93.9 407.8 L93.9 408.6 Z" fill="#000"/>
<line x1="36.2" y1="306" x2="42.8" y2="306" stroke="#111" stroke-width="1.15"/>
<line x1="39.2" y1="308.2" x2="42.8" y2="308.2" stroke="#111" stroke-width="1.15"/>
<line x1="39.2" y1="310.4" x2="42.8" y2="310.4" stroke="#111" stroke-width="1.15"/>
<line x1="39.2" y1="312.6" x2="42.8" y2="312.6" stroke="#111" stroke-width="1.15"/>
<line x1="39.2" y1="314.8" x2="42.8" y2="314.8" stroke="#111" stroke-width="1.15"/>
<line x1="39.2" y1="317" x2="42.8" y2="317" stroke="#111" stroke-width="1.15"/>
<line x1="36.2" y1="319.2" x2="42.8" y2="319.2" stroke="#111" stroke-width="1.15"/>
<line x1="39.2" y1="321.4" x2="42.8" y2="321.4" stroke="#111" stroke-width="1.15"/>
<line x1="39.2" y1="323.6" x2="42.8" y2="323.6" stroke="#111" stroke-width="1.15"/>
<line x1="39.2" y1="325.8" x2="42.8" y2="325.8" stroke="#111" stroke-width="1.15"/>
<line x1="39.2" y1="328" x2="42.8" y2="328" stroke="#111" stroke-width="1.15"/>
<line x1="39.2" y1="330.2" x2="42.8" y2="330.2" stroke="#111" stroke-width="1.15"/>
<line x1="36.2" y1="332.4" x2="42.8" y2="332.4" stroke="#111" stroke-width="1.15"/>
<line x1="39.2" y1="334.6" x2="42.8" y2="334.6" stroke="#111" stroke-width="1.15"/>
<line x1="39.2" y1="336.8" x2="42.8" y2="336.8" stroke="#111" stroke-width="1.15"/>
<line x1="39.2" y1="339" x2="42.8" y2="339" stroke="#111" stroke-width="1.15"/>
<line x1="39.2" y1="341.2" x2="42.8" y2="341.2" stroke="#111" stroke-width="1.15"/>
<line x1="39.2" y1="343.4" x2="42.8" y2="343.4" stroke="#111" stroke-width="1.15"/>
<line x1="36.2" y1="345.6" x2="42.8" y2="345.6" stroke="#111" stroke-width="1.15"/>
<line x1="39.2" y1="347.8" x2="42.8" y2="347.8" stroke="#111" stroke-width="1.15"/>
<line x1="39.2" y1="350" x2="42.8" y2="350" stroke="#111" stroke-width="1.15"/>
<line x1="39.2" y1="352.2" x2="42.8" y2="352.2" stroke="#111" stroke-width="1.15"/>
<line x1="39.2" y1="354.4" x2="42.8" y2="354.4" stroke="#111" stroke-width="1.15"/>
<line x1="39.2" y1="356.6" x2="42.8" y2="356.6" stroke="#111" stroke-width="1.15"/>
<line x1="36.2" y1="358.8" x2="42.8" y2="358.8" stroke="#111" stroke-width="1.15"/>
<line x1="39.2" y1="361" x2="42.8" y2="361" stroke="#111" stroke-width="1.15"/>
<line x1="39.2" y1="363.2" x2="42.8" y2="363.2" stroke="#111" stroke-width="1.15"/>
<line x1="39.2" y1="365.4" x2="42.8" y2="365.4" stroke="#111" stroke-width="1.15"/>
<line x1="39.2" y1="367.6" x2="42.8" y2="367.6" stroke="#111" stroke-width="1.15"/>
<line x1="39.2" y1="369.8" x2="42.8" y2="369.8" stroke="#111" stroke-width="1.15"/>
<line x1="36.2" y1="372" x2="42.8" y2="372" stroke="#111" stroke-width="1.15"/>
<line x1="39.2" y1="374.2" x2="42.8" y2="374.2" stroke="#111" stroke-width="1.15"/>
<line x1="39.2" y1="376.4" x2="42.8" y2="376.4" stroke="#111" stroke-width="1.15"/>
<line x1="39.2" y1="378.6" x2="42.8" y2="378.6" stroke="#111" stroke-width="1.15"/>
<line x1="39.2" y1="380.8" x2="42.8" y2="380.8" stroke="#111" stroke-width="1.15"/>
<line x1="39.2" y1="383" x2="42.8" y2="383" stroke="#111" stroke-width="1.15"/>
<line x1="36.2" y1="385.2" x2="42.8" y2="385.2" stroke="#111" stroke-width="1.15"/>
<line x1="39.2" y1="387.4" x2="42.8" y2="387.4" stroke="#111" stroke-width="1.15"/>
<line x1="39.2" y1="389.6" x2="42.8" y2="389.6" stroke="#111" stroke-width="1.15"/>
<line x1="39.2" y1="391.8" x2="42.8" y2="391.8" stroke="#111" stroke-width="1.15"/>
<line x1="39.2" y1="394" x2="42.8" y2="394" stroke="#111" stroke-width="1.15"/>
<line x1="39.2" y1="396.2" x2="42.8" y2="396.2" stroke="#111" stroke-width="1.15"/>
<line x1="36.2" y1="398.4" x2="42.8" y2="398.4" stroke="#111" stroke-width="1.15"/>
<line x1="39.2" y1="400.6" x2="42.8" y2="400.6" stroke="#111" stroke-width="1.15"/>
<line x1="39.2" y1="402.8" x2="42.8" y2="402.8" stroke="#111" stroke-width="1.15"/>
<line x1="39.2" y1="405" x2="42.8" y2="405" stroke="#111" stroke-width="1.15"/>
<line x1="39.2" y1="407.2" x2="42.8" y2="407.2" stroke="#111" stroke-width="1.15"/>
<line x1="36.2" y1="408.6" x2="42.8" y2="408.6" stroke="#111" stroke-width="1.3"/>
<line x1="43.6" y1="408.6" x2="43.6" y2="416.1" stroke="#111" stroke-width="1.3"/>
<line x1="48.96" y1="408.6" x2="48.96" y2="413.2" stroke="#111" stroke-width="1.3"/>
<line x1="54.31" y1="408.6" x2="54.31" y2="413.2" stroke="#111" stroke-width="1.3"/>
<line x1="59.67" y1="408.6" x2="59.67" y2="413.2" stroke="#111" stroke-width="1.3"/>
<line x1="65.02" y1="408.6" x2="65.02" y2="413.2" stroke="#111" stroke-width="1.3"/>
<line x1="70.38" y1="408.6" x2="70.38" y2="416.1" stroke="#111" stroke-width="1.3"/>
<line x1="75.74" y1="408.6" x2="75.74" y2="413.2" stroke="#111" stroke-width="1.3"/>
<line x1="81.09" y1="408.6" x2="81.09" y2="413.2" stroke="#111" stroke-width="1.3"/>
<line x1="86.45" y1="408.6" x2="86.45" y2="413.2" stroke="#111" stroke-width="1.3"/>
<line x1="91.8" y1="408.6" x2="91.8" y2="413.2" stroke="#111" stroke-width="1.3"/>
<line x1="97.16" y1="408.6" x2="97.16" y2="416.1" stroke="#111" stroke-width="1.3"/>
<line x1="102.52" y1="408.6" x2="102.52" y2="413.2" stroke="#111" stroke-width="1.3"/>
<line x1="107.87" y1="408.6" x2="107.87" y2="413.2" stroke="#111" stroke-width="1.3"/>
<line x1="113.23" y1="408.6" x2="113.23" y2="413.2" stroke="#111" stroke-width="1.3"/>
<line x1="118.58" y1="408.6" x2="118.58" y2="413.2" stroke="#111" stroke-width="1.3"/>
<line x1="123.94" y1="408.6" x2="123.94" y2="416.1" stroke="#111" stroke-width="1.3"/>
<line x1="129.3" y1="408.6" x2="129.3" y2="413.2" stroke="#111" stroke-width="1.3"/>
<line x1="134.65" y1="408.6" x2="134.65" y2="413.2" stroke="#111" stroke-width="1.3"/>
<line x1="140.01" y1="408.6" x2="140.01" y2="413.2" stroke="#111" stroke-width="1.3"/>
<line x1="145.36" y1="408.6" x2="145.36" y2="413.2" stroke="#111" stroke-width="1.3"/>
<line x1="150.72" y1="408.6" x2="150.72" y2="416.1" stroke="#111" stroke-width="1.3"/>
<line x1="156.08" y1="408.6" x2="156.08" y2="413.2" stroke="#111" stroke-width="1.3"/>
<line x1="161.43" y1="408.6" x2="161.43" y2="413.2" stroke="#111" stroke-width="1.3"/>
<line x1="166.79" y1="408.6" x2="166.79" y2="413.2" stroke="#111" stroke-width="1.3"/>
<line x1="172.14" y1="408.6" x2="172.14" y2="413.2" stroke="#111" stroke-width="1.3"/>
<line x1="177.5" y1="408.6" x2="177.5" y2="416.1" stroke="#111" stroke-width="1.3"/>
<rect x="42.8" y="306" width="138.8" height="102.6" fill="none" stroke="#111" stroke-width="1.6"/>
<text x="31.7" y="310.75" font-size="10.6" text-anchor="end" font-weight="normal" fill="#1c1c1c">200</text>
<text x="31.7" y="411.95" font-size="10.6" text-anchor="end" font-weight="normal" fill="#1c1c1c">0</text>
<text x="42.6" y="428.7" font-size="10.3" text-anchor="middle" font-weight="normal" fill="#1c1c1c">0</text>
<text x="177.5" y="428.7" font-size="10.3" text-anchor="middle" font-weight="normal" fill="#1c1c1c">1000</text>
<text x="110.1" y="428.7" font-size="10.3" text-anchor="middle" font-weight="normal" fill="#1c1c1c">DNA content</text>
<text x="0" y="0" transform="translate(28.6 357.5) rotate(-90)" font-size="10.5" text-anchor="middle" font-weight="normal" fill="#1c1c1c">Number</text>
<text x="124.7" y="320.8" font-size="10.3" text-anchor="end" font-weight="normal" fill="#1c1c1c">Sub-G1</text>
<text x="174.8" y="320.8" font-size="10.3" text-anchor="end" font-weight="normal" fill="#1c1c1c">0.79%</text>
<text x="124.7" y="332.7" font-size="10.3" text-anchor="end" font-weight="normal" fill="#1c1c1c">G1</text>
<text x="174.8" y="332.7" font-size="10.3" text-anchor="end" font-weight="normal" fill="#1c1c1c">85.07%</text>
<text x="125.6" y="344.9" font-size="10.3" text-anchor="end" font-weight="normal" fill="#1c1c1c">S</text>
<text x="174.8" y="344.9" font-size="10.3" text-anchor="end" font-weight="normal" fill="#1c1c1c">3.47%</text>
<path d="M228.2 411 L228.2 405.4 L230.8 407.4 L236.6 408.2 L242.4 408.8 L244.3 406.8 L246.2 408.8 L252 407.4 L256.9 406.4 L258 404 L258 398.9 L259.1 398.9 L259.1 378.1 L260.3 378.1 L260.3 359.9 L261.6 359.9 L261.6 351.6 L262.4 351.6 L262.4 347 L264.4 346.5 L265.3 351.6 L265.3 359.9 L266.1 359.9 L266.1 378.1 L267.4 378.1 L267.4 394.7 L268.2 394.7 L268.2 398.9 L269.1 398.9 L269.1 402.2 L271.6 402.2 L272.1 400.8 L272.7 403 L273.3 404.5 L276.2 405.4 L280.1 406.4 L287.8 406 L290.7 402.5 L293.2 399.2 L296 399.6 L299.4 403.1 L301.4 406.4 L303.7 410.2 L303.7 411 Z" fill="#000"/>
<line x1="220.9" y1="306.1" x2="227.5" y2="306.1" stroke="#111" stroke-width="1.15"/>
<line x1="223.9" y1="308.3" x2="227.5" y2="308.3" stroke="#111" stroke-width="1.15"/>
<line x1="223.9" y1="310.5" x2="227.5" y2="310.5" stroke="#111" stroke-width="1.15"/>
<line x1="223.9" y1="312.7" x2="227.5" y2="312.7" stroke="#111" stroke-width="1.15"/>
<line x1="223.9" y1="314.9" x2="227.5" y2="314.9" stroke="#111" stroke-width="1.15"/>
<line x1="223.9" y1="317.1" x2="227.5" y2="317.1" stroke="#111" stroke-width="1.15"/>
<line x1="220.9" y1="319.3" x2="227.5" y2="319.3" stroke="#111" stroke-width="1.15"/>
<line x1="223.9" y1="321.5" x2="227.5" y2="321.5" stroke="#111" stroke-width="1.15"/>
<line x1="223.9" y1="323.7" x2="227.5" y2="323.7" stroke="#111" stroke-width="1.15"/>
<line x1="223.9" y1="325.9" x2="227.5" y2="325.9" stroke="#111" stroke-width="1.15"/>
<line x1="223.9" y1="328.1" x2="227.5" y2="328.1" stroke="#111" stroke-width="1.15"/>
<line x1="223.9" y1="330.3" x2="227.5" y2="330.3" stroke="#111" stroke-width="1.15"/>
<line x1="220.9" y1="332.5" x2="227.5" y2="332.5" stroke="#111" stroke-width="1.15"/>
<line x1="223.9" y1="334.7" x2="227.5" y2="334.7" stroke="#111" stroke-width="1.15"/>
<line x1="223.9" y1="336.9" x2="227.5" y2="336.9" stroke="#111" stroke-width="1.15"/>
<line x1="223.9" y1="339.1" x2="227.5" y2="339.1" stroke="#111" stroke-width="1.15"/>
<line x1="223.9" y1="341.3" x2="227.5" y2="341.3" stroke="#111" stroke-width="1.15"/>
<line x1="223.9" y1="343.5" x2="227.5" y2="343.5" stroke="#111" stroke-width="1.15"/>
<line x1="220.9" y1="345.7" x2="227.5" y2="345.7" stroke="#111" stroke-width="1.15"/>
<line x1="223.9" y1="347.9" x2="227.5" y2="347.9" stroke="#111" stroke-width="1.15"/>
<line x1="223.9" y1="350.1" x2="227.5" y2="350.1" stroke="#111" stroke-width="1.15"/>
<line x1="223.9" y1="352.3" x2="227.5" y2="352.3" stroke="#111" stroke-width="1.15"/>
<line x1="223.9" y1="354.5" x2="227.5" y2="354.5" stroke="#111" stroke-width="1.15"/>
<line x1="223.9" y1="356.7" x2="227.5" y2="356.7" stroke="#111" stroke-width="1.15"/>
<line x1="220.9" y1="358.9" x2="227.5" y2="358.9" stroke="#111" stroke-width="1.15"/>
<line x1="223.9" y1="361.1" x2="227.5" y2="361.1" stroke="#111" stroke-width="1.15"/>
<line x1="223.9" y1="363.3" x2="227.5" y2="363.3" stroke="#111" stroke-width="1.15"/>
<line x1="223.9" y1="365.5" x2="227.5" y2="365.5" stroke="#111" stroke-width="1.15"/>
<line x1="223.9" y1="367.7" x2="227.5" y2="367.7" stroke="#111" stroke-width="1.15"/>
<line x1="223.9" y1="369.9" x2="227.5" y2="369.9" stroke="#111" stroke-width="1.15"/>
<line x1="220.9" y1="372.1" x2="227.5" y2="372.1" stroke="#111" stroke-width="1.15"/>
<line x1="223.9" y1="374.3" x2="227.5" y2="374.3" stroke="#111" stroke-width="1.15"/>
<line x1="223.9" y1="376.5" x2="227.5" y2="376.5" stroke="#111" stroke-width="1.15"/>
<line x1="223.9" y1="378.7" x2="227.5" y2="378.7" stroke="#111" stroke-width="1.15"/>
<line x1="223.9" y1="380.9" x2="227.5" y2="380.9" stroke="#111" stroke-width="1.15"/>
<line x1="223.9" y1="383.1" x2="227.5" y2="383.1" stroke="#111" stroke-width="1.15"/>
<line x1="220.9" y1="385.3" x2="227.5" y2="385.3" stroke="#111" stroke-width="1.15"/>
<line x1="223.9" y1="387.5" x2="227.5" y2="387.5" stroke="#111" stroke-width="1.15"/>
<line x1="223.9" y1="389.7" x2="227.5" y2="389.7" stroke="#111" stroke-width="1.15"/>
<line x1="223.9" y1="391.9" x2="227.5" y2="391.9" stroke="#111" stroke-width="1.15"/>
<line x1="223.9" y1="394.1" x2="227.5" y2="394.1" stroke="#111" stroke-width="1.15"/>
<line x1="223.9" y1="396.3" x2="227.5" y2="396.3" stroke="#111" stroke-width="1.15"/>
<line x1="220.9" y1="398.5" x2="227.5" y2="398.5" stroke="#111" stroke-width="1.15"/>
<line x1="223.9" y1="400.7" x2="227.5" y2="400.7" stroke="#111" stroke-width="1.15"/>
<line x1="223.9" y1="402.9" x2="227.5" y2="402.9" stroke="#111" stroke-width="1.15"/>
<line x1="223.9" y1="405.1" x2="227.5" y2="405.1" stroke="#111" stroke-width="1.15"/>
<line x1="223.9" y1="407.3" x2="227.5" y2="407.3" stroke="#111" stroke-width="1.15"/>
<line x1="223.9" y1="409.5" x2="227.5" y2="409.5" stroke="#111" stroke-width="1.15"/>
<line x1="220.9" y1="411" x2="227.5" y2="411" stroke="#111" stroke-width="1.3"/>
<line x1="228.8" y1="411" x2="228.8" y2="418.5" stroke="#111" stroke-width="1.3"/>
<line x1="234.24" y1="411" x2="234.24" y2="415.6" stroke="#111" stroke-width="1.3"/>
<line x1="239.68" y1="411" x2="239.68" y2="415.6" stroke="#111" stroke-width="1.3"/>
<line x1="245.12" y1="411" x2="245.12" y2="415.6" stroke="#111" stroke-width="1.3"/>
<line x1="250.56" y1="411" x2="250.56" y2="415.6" stroke="#111" stroke-width="1.3"/>
<line x1="256" y1="411" x2="256" y2="418.5" stroke="#111" stroke-width="1.3"/>
<line x1="261.44" y1="411" x2="261.44" y2="415.6" stroke="#111" stroke-width="1.3"/>
<line x1="266.88" y1="411" x2="266.88" y2="415.6" stroke="#111" stroke-width="1.3"/>
<line x1="272.32" y1="411" x2="272.32" y2="415.6" stroke="#111" stroke-width="1.3"/>
<line x1="277.76" y1="411" x2="277.76" y2="415.6" stroke="#111" stroke-width="1.3"/>
<line x1="283.2" y1="411" x2="283.2" y2="418.5" stroke="#111" stroke-width="1.3"/>
<line x1="288.64" y1="411" x2="288.64" y2="415.6" stroke="#111" stroke-width="1.3"/>
<line x1="294.08" y1="411" x2="294.08" y2="415.6" stroke="#111" stroke-width="1.3"/>
<line x1="299.52" y1="411" x2="299.52" y2="415.6" stroke="#111" stroke-width="1.3"/>
<line x1="304.96" y1="411" x2="304.96" y2="415.6" stroke="#111" stroke-width="1.3"/>
<line x1="310.4" y1="411" x2="310.4" y2="418.5" stroke="#111" stroke-width="1.3"/>
<line x1="315.84" y1="411" x2="315.84" y2="415.6" stroke="#111" stroke-width="1.3"/>
<line x1="321.28" y1="411" x2="321.28" y2="415.6" stroke="#111" stroke-width="1.3"/>
<line x1="326.72" y1="411" x2="326.72" y2="415.6" stroke="#111" stroke-width="1.3"/>
<line x1="332.16" y1="411" x2="332.16" y2="415.6" stroke="#111" stroke-width="1.3"/>
<line x1="337.6" y1="411" x2="337.6" y2="418.5" stroke="#111" stroke-width="1.3"/>
<line x1="343.04" y1="411" x2="343.04" y2="415.6" stroke="#111" stroke-width="1.3"/>
<line x1="348.48" y1="411" x2="348.48" y2="415.6" stroke="#111" stroke-width="1.3"/>
<line x1="353.92" y1="411" x2="353.92" y2="415.6" stroke="#111" stroke-width="1.3"/>
<line x1="359.36" y1="411" x2="359.36" y2="415.6" stroke="#111" stroke-width="1.3"/>
<line x1="364.8" y1="411" x2="364.8" y2="418.5" stroke="#111" stroke-width="1.3"/>
<rect x="227.5" y="306.1" width="142" height="104.9" fill="none" stroke="#2a2a2a" stroke-width="1.6"/>
<text x="217.7" y="310.85" font-size="10.6" text-anchor="end" font-weight="normal" fill="#1c1c1c">200</text>
<text x="217.7" y="415.15" font-size="10.6" text-anchor="end" font-weight="normal" fill="#1c1c1c">0</text>
<text x="229.6" y="431.6" font-size="10.3" text-anchor="middle" font-weight="normal" fill="#1c1c1c">0</text>
<text x="364.8" y="431.6" font-size="10.3" text-anchor="middle" font-weight="normal" fill="#1c1c1c">1000</text>
<text x="297.7" y="431.6" font-size="10.3" text-anchor="middle" font-weight="normal" fill="#1c1c1c">DNA content</text>
<text x="0" y="0" transform="translate(215.5 358.7) rotate(-90)" font-size="10.5" text-anchor="middle" font-weight="normal" fill="#1c1c1c">Number</text>
<text x="312.5" y="318.4" font-size="10.3" text-anchor="end" font-weight="normal" fill="#1c1c1c">Sub-G1</text>
<text x="359.5" y="318.4" font-size="10.3" text-anchor="end" font-weight="normal" fill="#1c1c1c">1.25%</text>
<text x="312.5" y="332" font-size="10.3" text-anchor="end" font-weight="normal" fill="#1c1c1c">G1</text>
<text x="359.5" y="332" font-size="10.3" text-anchor="end" font-weight="normal" fill="#1c1c1c">79.52%</text>
<text x="313.4" y="346.2" font-size="10.3" text-anchor="end" font-weight="normal" fill="#1c1c1c">S</text>
<text x="359.5" y="346.2" font-size="10.3" text-anchor="end" font-weight="normal" fill="#1c1c1c">8.30%</text>
<rect x="460.1" y="167.13" width="13.1" height="12.97" fill="#ffffff" stroke="#202020" stroke-width="1.5"/>
<rect x="473.2" y="178.57" width="13" height="1.53" fill="#808080" stroke="#202020" stroke-width="1.5"/>
<rect x="486.2" y="172.16" width="13.1" height="7.94" fill="#1a1a1a" stroke="#202020" stroke-width="1.5"/>
<line x1="466.65" y1="151.9" x2="466.65" y2="182.4" stroke="#333" stroke-width="1.1"/>
<line x1="465.75" y1="151.9" x2="467.55" y2="151.9" stroke="#333" stroke-width="1.1"/>
<line x1="465.75" y1="182.4" x2="467.55" y2="182.4" stroke="#333" stroke-width="1.1"/>
<line x1="479.7" y1="172.4" x2="479.7" y2="185.2" stroke="#333" stroke-width="1.1"/>
<line x1="478.8" y1="172.4" x2="480.6" y2="172.4" stroke="#333" stroke-width="1.1"/>
<line x1="478.8" y1="185.2" x2="480.6" y2="185.2" stroke="#333" stroke-width="1.1"/>
<line x1="492.75" y1="166.3" x2="492.75" y2="172" stroke="#1e1e1e" stroke-width="1.1"/>
<line x1="491.85" y1="166.3" x2="493.65" y2="166.3" stroke="#1e1e1e" stroke-width="1.1"/>
<line x1="491.85" y1="172" x2="493.65" y2="172" stroke="#1e1e1e" stroke-width="1.1"/>
<rect x="518.65" y="86.56" width="13.1" height="93.54" fill="#ffffff" stroke="#202020" stroke-width="1.5"/>
<rect x="531.75" y="50.39" width="13" height="129.71" fill="#808080" stroke="#202020" stroke-width="1.5"/>
<rect x="544.75" y="53.29" width="13.1" height="126.81" fill="#1a1a1a" stroke="#202020" stroke-width="1.5"/>
<line x1="525.2" y1="80.3" x2="525.2" y2="92.6" stroke="#333" stroke-width="1.1"/>
<line x1="524.3" y1="80.3" x2="526.1" y2="80.3" stroke="#333" stroke-width="1.1"/>
<line x1="524.3" y1="92.6" x2="526.1" y2="92.6" stroke="#333" stroke-width="1.1"/>
<line x1="538.25" y1="38.9" x2="538.25" y2="62.3" stroke="#333" stroke-width="1.1"/>
<line x1="537.35" y1="38.9" x2="539.15" y2="38.9" stroke="#333" stroke-width="1.1"/>
<line x1="537.35" y1="62.3" x2="539.15" y2="62.3" stroke="#333" stroke-width="1.1"/>
<line x1="551.3" y1="41.6" x2="551.3" y2="53.5" stroke="#1e1e1e" stroke-width="1.1"/>
<line x1="550.4" y1="41.6" x2="552.2" y2="41.6" stroke="#1e1e1e" stroke-width="1.1"/>
<line x1="550.4" y1="53.5" x2="552.2" y2="53.5" stroke="#1e1e1e" stroke-width="1.1"/>
<rect x="577.2" y="164.69" width="13.1" height="15.41" fill="#ffffff" stroke="#202020" stroke-width="1.5"/>
<rect x="590.3" y="174.45" width="13" height="5.65" fill="#808080" stroke="#202020" stroke-width="1.5"/>
<rect x="603.3" y="172.93" width="13.1" height="7.17" fill="#1a1a1a" stroke="#202020" stroke-width="1.5"/>
<line x1="583.75" y1="160.1" x2="583.75" y2="169.3" stroke="#333" stroke-width="1.1"/>
<line x1="582.85" y1="160.1" x2="584.65" y2="160.1" stroke="#333" stroke-width="1.1"/>
<line x1="582.85" y1="169.3" x2="584.65" y2="169.3" stroke="#333" stroke-width="1.1"/>
<line x1="596.8" y1="173.2" x2="596.8" y2="176" stroke="#333" stroke-width="1.1"/>
<line x1="595.9" y1="173.2" x2="597.7" y2="173.2" stroke="#333" stroke-width="1.1"/>
<line x1="595.9" y1="176" x2="597.7" y2="176" stroke="#333" stroke-width="1.1"/>
<line x1="609.85" y1="171.3" x2="609.85" y2="174.5" stroke="#1e1e1e" stroke-width="1.1"/>
<line x1="608.95" y1="171.3" x2="610.75" y2="171.3" stroke="#1e1e1e" stroke-width="1.1"/>
<line x1="608.95" y1="174.5" x2="610.75" y2="174.5" stroke="#1e1e1e" stroke-width="1.1"/>
<rect x="635.75" y="151.72" width="13.1" height="28.38" fill="#ffffff" stroke="#202020" stroke-width="1.5"/>
<rect x="648.85" y="163.62" width="13" height="16.48" fill="#808080" stroke="#202020" stroke-width="1.5"/>
<rect x="661.85" y="168.35" width="13.1" height="11.75" fill="#1a1a1a" stroke="#202020" stroke-width="1.5"/>
<line x1="642.3" y1="143.5" x2="642.3" y2="160.1" stroke="#333" stroke-width="1.1"/>
<line x1="641.4" y1="143.5" x2="643.2" y2="143.5" stroke="#333" stroke-width="1.1"/>
<line x1="641.4" y1="160.1" x2="643.2" y2="160.1" stroke="#333" stroke-width="1.1"/>
<line x1="655.35" y1="155.8" x2="655.35" y2="171.3" stroke="#333" stroke-width="1.1"/>
<line x1="654.45" y1="155.8" x2="656.25" y2="155.8" stroke="#333" stroke-width="1.1"/>
<line x1="654.45" y1="171.3" x2="656.25" y2="171.3" stroke="#333" stroke-width="1.1"/>
<line x1="668.4" y1="160.1" x2="668.4" y2="176.8" stroke="#1e1e1e" stroke-width="1.1"/>
<line x1="667.5" y1="160.1" x2="669.3" y2="160.1" stroke="#1e1e1e" stroke-width="1.1"/>
<line x1="667.5" y1="176.8" x2="669.3" y2="176.8" stroke="#1e1e1e" stroke-width="1.1"/>
<line x1="450.7" y1="27.1" x2="450.7" y2="210.3" stroke="#222" stroke-width="1.1"/>
<line x1="447.7" y1="210.3" x2="450.7" y2="210.3" stroke="#222" stroke-width="1.1"/>
<line x1="447.2" y1="180.1" x2="450.7" y2="180.1" stroke="#222" stroke-width="1.1"/>
<line x1="447.2" y1="149.58" x2="450.7" y2="149.58" stroke="#222" stroke-width="1.1"/>
<line x1="447.2" y1="119.06" x2="450.7" y2="119.06" stroke="#222" stroke-width="1.1"/>
<line x1="447.2" y1="88.54" x2="450.7" y2="88.54" stroke="#222" stroke-width="1.1"/>
<line x1="447.2" y1="58.02" x2="450.7" y2="58.02" stroke="#222" stroke-width="1.1"/>
<line x1="447.2" y1="27.5" x2="450.7" y2="27.5" stroke="#222" stroke-width="1.1"/>
<text x="444.4" y="32" font-size="10.3" text-anchor="end" font-weight="normal" fill="#1c1c1c">100</text>
<text x="444.4" y="62" font-size="10.3" text-anchor="end" font-weight="normal" fill="#1c1c1c">80</text>
<text x="444.4" y="92.6" font-size="10.3" text-anchor="end" font-weight="normal" fill="#1c1c1c">60</text>
<text x="444.4" y="123.1" font-size="10.3" text-anchor="end" font-weight="normal" fill="#1c1c1c">40</text>
<text x="444.4" y="153.5" font-size="10.3" text-anchor="end" font-weight="normal" fill="#1c1c1c">20</text>
<text x="444.4" y="183.5" font-size="10.3" text-anchor="end" font-weight="normal" fill="#1c1c1c">0</text>
<line x1="450.7" y1="180.1" x2="685" y2="180.1" stroke="#2a2a2a" stroke-width="1.1"/>
<line x1="508.8" y1="180.1" x2="508.8" y2="182.7" stroke="#222" stroke-width="1.1"/>
<line x1="567.4" y1="180.1" x2="567.4" y2="182.7" stroke="#222" stroke-width="1.1"/>
<line x1="626.2" y1="180.1" x2="626.2" y2="182.7" stroke="#222" stroke-width="1.1"/>
<line x1="684.5" y1="180.1" x2="684.5" y2="182.7" stroke="#222" stroke-width="1.1"/>
<text x="479.4" y="196.8" font-size="10.3" text-anchor="middle" font-weight="normal" fill="#1c1c1c">SubG1</text>
<text x="538.2" y="196.8" font-size="10.3" text-anchor="middle" font-weight="normal" fill="#1c1c1c">G1</text>
<text x="597.6" y="196.8" font-size="10.3" text-anchor="middle" font-weight="normal" fill="#1c1c1c">S</text>
<text x="656.9" y="196.8" font-size="10.3" text-anchor="middle" font-weight="normal" fill="#1c1c1c">G2M</text>
<path d="M524.6 35.9 L524.6 28.4 L537.8 28.4 L537.8 35.9" fill="none" stroke="#1a1a1a" stroke-width="1.9"/>
<path d="M531.8 20.25 L532.39 21.74 L533.99 21.84 L532.75 22.86 L533.15 24.41 L531.8 23.55 L530.45 24.41 L530.85 22.86 L529.61 21.84 L531.21 21.74 Z" fill="#1a1a1a"/>
<path d="M583.1 154.5 L583.1 147.3 L596.7 147.3 L596.7 154.5" fill="none" stroke="#1a1a1a" stroke-width="1.9"/>
<path d="M589.6 138.75 L590.19 140.24 L591.79 140.34 L590.55 141.36 L590.95 142.91 L589.6 142.05 L588.25 142.91 L588.65 141.36 L587.41 140.34 L589.01 140.24 Z" fill="#1a1a1a"/>
<rect x="577.7" y="30.2" width="4.4" height="4.4" fill="#fff" stroke="#1a1a1a" stroke-width="1.4"/>
<text x="586.1" y="34.6" font-size="10.3" text-anchor="start" font-weight="normal" fill="#1c1c1c">si-ctr</text>
<rect x="577.7" y="48.4" width="4.4" height="4.4" fill="#808080" stroke="#1a1a1a" stroke-width="1.4"/>
<text x="586.1" y="53.3" font-size="10.3" text-anchor="start" font-weight="normal" fill="#1c1c1c">si-YB-1#1</text>
<rect x="577.7" y="66.7" width="4.4" height="4.4" fill="#1a1a1a" stroke="#1a1a1a" stroke-width="1.4"/>
<text x="586.1" y="71.8" font-size="10.3" text-anchor="start" font-weight="normal" fill="#1c1c1c">si-YB-1#2</text>
<text x="0" y="0" transform="translate(408.2 102.8) rotate(-90)" font-size="10.5" text-anchor="middle" font-weight="normal" fill="#1c1c1c">MG63</text>
<text x="0" y="0" transform="translate(420 102.6) rotate(-90)" font-size="10.55" text-anchor="middle" font-weight="normal" fill="#1c1c1c">percentage of cells (%)</text>
<rect x="460" y="392.2" width="13.1" height="2.1" fill="#ffffff" stroke="#202020" stroke-width="1.5"/>
<rect x="473.1" y="393.57" width="13" height="0.73" fill="#808080" stroke="#202020" stroke-width="1.5"/>
<rect x="486.1" y="387.56" width="13.1" height="6.74" fill="#1a1a1a" stroke="#202020" stroke-width="1.5"/>
<line x1="479.6" y1="386.1" x2="479.6" y2="400" stroke="#333" stroke-width="1.1"/>
<line x1="478.7" y1="386.1" x2="480.5" y2="386.1" stroke="#333" stroke-width="1.1"/>
<line x1="478.7" y1="400" x2="480.5" y2="400" stroke="#333" stroke-width="1.1"/>
<line x1="492.65" y1="380.9" x2="492.65" y2="387.5" stroke="#1e1e1e" stroke-width="1.1"/>
<line x1="491.75" y1="380.9" x2="493.55" y2="380.9" stroke="#1e1e1e" stroke-width="1.1"/>
<line x1="491.75" y1="387.5" x2="493.55" y2="387.5" stroke="#1e1e1e" stroke-width="1.1"/>
<rect x="518.5" y="287.32" width="13.1" height="106.98" fill="#ffffff" stroke="#202020" stroke-width="1.5"/>
<rect x="531.6" y="247.77" width="13" height="146.53" fill="#808080" stroke="#202020" stroke-width="1.5"/>
<rect x="544.6" y="265.27" width="13.1" height="129.03" fill="#1a1a1a" stroke="#202020" stroke-width="1.5"/>
<line x1="525.05" y1="269.4" x2="525.05" y2="305" stroke="#333" stroke-width="1.1"/>
<line x1="524.15" y1="269.4" x2="525.95" y2="269.4" stroke="#333" stroke-width="1.1"/>
<line x1="524.15" y1="305" x2="525.95" y2="305" stroke="#333" stroke-width="1.1"/>
<line x1="538.1" y1="241.2" x2="538.1" y2="254.7" stroke="#333" stroke-width="1.1"/>
<line x1="537.2" y1="241.2" x2="539" y2="241.2" stroke="#333" stroke-width="1.1"/>
<line x1="537.2" y1="254.7" x2="539" y2="254.7" stroke="#333" stroke-width="1.1"/>
<line x1="551.15" y1="258.4" x2="551.15" y2="272" stroke="#1e1e1e" stroke-width="1.1"/>
<line x1="550.25" y1="258.4" x2="552.05" y2="258.4" stroke="#1e1e1e" stroke-width="1.1"/>
<line x1="550.25" y1="272" x2="552.05" y2="272" stroke="#1e1e1e" stroke-width="1.1"/>
<rect x="577" y="375.71" width="13.1" height="18.59" fill="#ffffff" stroke="#202020" stroke-width="1.5"/>
<rect x="590.1" y="379.9" width="13" height="14.4" fill="#808080" stroke="#202020" stroke-width="1.5"/>
<rect x="603.1" y="386.1" width="13.1" height="8.2" fill="#1a1a1a" stroke="#202020" stroke-width="1.5"/>
<line x1="583.55" y1="371.8" x2="583.55" y2="379.4" stroke="#333" stroke-width="1.1"/>
<line x1="582.65" y1="371.8" x2="584.45" y2="371.8" stroke="#333" stroke-width="1.1"/>
<line x1="582.65" y1="379.4" x2="584.45" y2="379.4" stroke="#333" stroke-width="1.1"/>
<line x1="596.6" y1="378.8" x2="596.6" y2="381" stroke="#333" stroke-width="1.1"/>
<line x1="595.7" y1="378.8" x2="597.5" y2="378.8" stroke="#333" stroke-width="1.1"/>
<line x1="595.7" y1="381" x2="597.5" y2="381" stroke="#333" stroke-width="1.1"/>
<line x1="609.65" y1="385" x2="609.65" y2="387" stroke="#1e1e1e" stroke-width="1.1"/>
<line x1="608.75" y1="385" x2="610.55" y2="385" stroke="#1e1e1e" stroke-width="1.1"/>
<line x1="608.75" y1="387" x2="610.55" y2="387" stroke="#1e1e1e" stroke-width="1.1"/>
<rect x="635.5" y="351.47" width="13.1" height="42.83" fill="#ffffff" stroke="#202020" stroke-width="1.5"/>
<rect x="648.6" y="373.89" width="13" height="20.41" fill="#808080" stroke="#202020" stroke-width="1.5"/>
<rect x="661.6" y="361.31" width="13.1" height="32.99" fill="#1a1a1a" stroke="#202020" stroke-width="1.5"/>
<line x1="642.05" y1="336.1" x2="642.05" y2="366.5" stroke="#333" stroke-width="1.1"/>
<line x1="641.15" y1="336.1" x2="642.95" y2="336.1" stroke="#333" stroke-width="1.1"/>
<line x1="641.15" y1="366.5" x2="642.95" y2="366.5" stroke="#333" stroke-width="1.1"/>
<line x1="655.1" y1="372.8" x2="655.1" y2="374.8" stroke="#333" stroke-width="1.1"/>
<line x1="654.2" y1="372.8" x2="656" y2="372.8" stroke="#333" stroke-width="1.1"/>
<line x1="654.2" y1="374.8" x2="656" y2="374.8" stroke="#333" stroke-width="1.1"/>
<line x1="668.15" y1="360.8" x2="668.15" y2="362" stroke="#1e1e1e" stroke-width="1.1"/>
<line x1="667.25" y1="360.8" x2="669.05" y2="360.8" stroke="#1e1e1e" stroke-width="1.1"/>
<line x1="667.25" y1="362" x2="669.05" y2="362" stroke="#1e1e1e" stroke-width="1.1"/>
<line x1="450.7" y1="229.8" x2="450.7" y2="412.4" stroke="#222" stroke-width="1.1"/>
<line x1="447.7" y1="412.4" x2="450.7" y2="412.4" stroke="#222" stroke-width="1.1"/>
<line x1="447.2" y1="394.3" x2="450.7" y2="394.3" stroke="#222" stroke-width="1.1"/>
<line x1="447.2" y1="376.07" x2="450.7" y2="376.07" stroke="#222" stroke-width="1.1"/>
<line x1="447.2" y1="357.85" x2="450.7" y2="357.85" stroke="#222" stroke-width="1.1"/>
<line x1="447.2" y1="339.62" x2="450.7" y2="339.62" stroke="#222" stroke-width="1.1"/>
<line x1="447.2" y1="321.4" x2="450.7" y2="321.4" stroke="#222" stroke-width="1.1"/>
<line x1="447.2" y1="303.18" x2="450.7" y2="303.18" stroke="#222" stroke-width="1.1"/>
<line x1="447.2" y1="284.95" x2="450.7" y2="284.95" stroke="#222" stroke-width="1.1"/>
<line x1="447.2" y1="266.73" x2="450.7" y2="266.73" stroke="#222" stroke-width="1.1"/>
<line x1="447.2" y1="248.5" x2="450.7" y2="248.5" stroke="#222" stroke-width="1.1"/>
<line x1="447.2" y1="230.28" x2="450.7" y2="230.28" stroke="#222" stroke-width="1.1"/>
<text x="443.8" y="253.9" font-size="10.3" text-anchor="end" font-weight="normal" fill="#1c1c1c">80</text>
<text x="443.8" y="289.8" font-size="10.3" text-anchor="end" font-weight="normal" fill="#1c1c1c">60</text>
<text x="443.8" y="325.8" font-size="10.3" text-anchor="end" font-weight="normal" fill="#1c1c1c">40</text>
<text x="443.8" y="361.8" font-size="10.3" text-anchor="end" font-weight="normal" fill="#1c1c1c">20</text>
<text x="443.8" y="398.2" font-size="10.3" text-anchor="end" font-weight="normal" fill="#1c1c1c">0</text>
<line x1="450.7" y1="394.3" x2="683.7" y2="394.3" stroke="#2a2a2a" stroke-width="1.1"/>
<line x1="508.7" y1="394.3" x2="508.7" y2="396.9" stroke="#222" stroke-width="1.1"/>
<line x1="567.3" y1="394.3" x2="567.3" y2="396.9" stroke="#222" stroke-width="1.1"/>
<line x1="626" y1="394.3" x2="626" y2="396.9" stroke="#222" stroke-width="1.1"/>
<line x1="683.7" y1="394.3" x2="683.7" y2="396.9" stroke="#222" stroke-width="1.1"/>
<text x="481.4" y="411.9" font-size="10.3" text-anchor="middle" font-weight="normal" fill="#1c1c1c">SubG1</text>
<text x="538.2" y="411.9" font-size="10.3" text-anchor="middle" font-weight="normal" fill="#1c1c1c">G1</text>
<text x="596.7" y="411.9" font-size="10.3" text-anchor="middle" font-weight="normal" fill="#1c1c1c">S</text>
<text x="654" y="411.9" font-size="10.3" text-anchor="middle" font-weight="normal" fill="#1c1c1c">G2M</text>
<path d="M525.8 235.6 L525.8 228.7 L538.1 228.7 L538.1 235.6" fill="none" stroke="#1a1a1a" stroke-width="1.9"/>
<path d="M531.8 220.25 L532.39 221.74 L533.99 221.84 L532.75 222.86 L533.15 224.41 L531.8 223.55 L530.45 224.41 L530.85 222.86 L529.61 221.84 L531.21 221.74 Z" fill="#1a1a1a"/>
<rect x="579.9" y="239.2" width="4.4" height="4.4" fill="#fff" stroke="#1a1a1a" stroke-width="1.4"/>
<text x="590" y="243" font-size="10.3" text-anchor="start" font-weight="normal" fill="#1c1c1c">si-ctr</text>
<rect x="579.9" y="257.4" width="4.4" height="4.4" fill="#808080" stroke="#1a1a1a" stroke-width="1.4"/>
<text x="590" y="261.7" font-size="10.3" text-anchor="start" font-weight="normal" fill="#1c1c1c">si-YB-1#1</text>
<rect x="579.9" y="275.6" width="4.4" height="4.4" fill="#1a1a1a" stroke="#1a1a1a" stroke-width="1.4"/>
<text x="590" y="280.4" font-size="10.3" text-anchor="start" font-weight="normal" fill="#1c1c1c">si-YB-1#2</text>
<text x="0" y="0" transform="translate(409 321.5) rotate(-90)" font-size="10.5" text-anchor="middle" font-weight="normal" fill="#1c1c1c">MNNG</text>
<text x="0" y="0" transform="translate(419.9 321.9) rotate(-90)" font-size="10.55" text-anchor="middle" font-weight="normal" fill="#1c1c1c">percentage of cells (%)</text>
</svg>
</body></html>
